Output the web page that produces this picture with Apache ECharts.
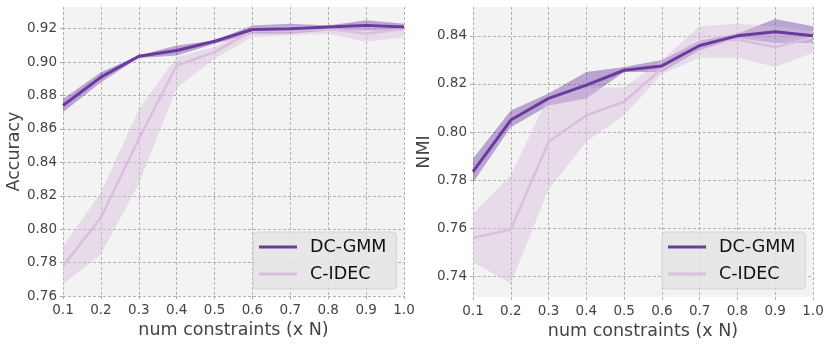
<!DOCTYPE html>
<html>
<head>
<meta charset="utf-8">
<script src="https://cdn.jsdelivr.net/npm/echarts@6/dist/echarts.min.js"></script>
<style>
  html, body { margin: 0; padding: 0; background: #fff; }
  #chart { width: 831px; height: 345px; }
</style>
</head>
<body>
<div id="chart"></div>
<script>
// x: fraction of constraints
const fractions = ['0.1', '0.2', '0.3', '0.4', '0.5', '0.6', '0.7', '0.8', '0.9', '1.0']

// Accuracy (mean, lower / upper band)
const accDcgmm = [0.874, 0.891, 0.9035, 0.907, 0.9125, 0.9195, 0.920, 0.921, 0.922, 0.921]
const accDcgmmLo = [0.870, 0.888, 0.9025, 0.904, 0.911, 0.917, 0.917, 0.919, 0.919, 0.919]
const accDcgmmHi = [0.878, 0.894, 0.904, 0.910, 0.913, 0.922, 0.923, 0.922, 0.925, 0.923]
const accCidec = [0.778, 0.807, 0.854, 0.898, 0.906, 0.919, 0.919, 0.920, 0.917, 0.920]
const accCidecLo = [0.767, 0.785, 0.827, 0.8845, 0.902, 0.915, 0.916, 0.917, 0.912, 0.915]
const accCidecHi = [0.790, 0.822, 0.872, 0.903, 0.909, 0.921, 0.922, 0.922, 0.921, 0.922]

// NMI (mean, lower / upper band)
const nmiDcgmm = [0.7835, 0.805, 0.814, 0.8195, 0.8257, 0.8275, 0.836, 0.840, 0.8417, 0.840]
const nmiDcgmmLo = [0.779, 0.802, 0.811, 0.814, 0.825, 0.825, 0.834, 0.839, 0.837, 0.837]
const nmiDcgmmHi = [0.789, 0.809, 0.816, 0.825, 0.827, 0.830, 0.838, 0.841, 0.847, 0.844]
const nmiCidec = [0.756, 0.7595, 0.796, 0.807, 0.8126, 0.8264, 0.8368, 0.8385, 0.8354, 0.8393]
const nmiCidecLo = [0.746, 0.737, 0.776, 0.796, 0.807, 0.824, 0.831, 0.831, 0.827, 0.833]
const nmiCidecHi = [0.766, 0.782, 0.815, 0.8185, 0.8185, 0.830, 0.844, 0.845, 0.844, 0.842]

const DARK = '#6a3a9e'
const LIGHT = '#d9bfdd'
const DARK_BAND = 'rgba(106,58,158,0.42)'
const LIGHT_BAND = 'rgba(217,191,221,0.45)'
const FONT = 'DejaVu Sans'
const TEXT = '#444'

// band = invisible lower line + stacked (hi - lo) area
const band = (id, lo, hi, color, idx) => [
  {
    name: id + '_lo', type: 'line', stack: id, data: lo,
    xAxisIndex: idx, yAxisIndex: idx, symbol: 'none', silent: true,
    lineStyle: { opacity: 0 },
  },
  {
    name: id + '_hi', type: 'line', stack: id,
    data: hi.map((v, i) => v - lo[i]),
    xAxisIndex: idx, yAxisIndex: idx, symbol: 'none', silent: true,
    lineStyle: { opacity: 0 },
    areaStyle: { color: color, opacity: 1 },
  },
]

const line = (name, data, color, width, idx) => ({
  name: name, type: 'line', data: data,
  xAxisIndex: idx, yAxisIndex: idx, symbol: 'none',
  lineStyle: { color: color, width: width },
  itemStyle: { color: color },
})

const xAxis = (idx) => ({
  type: 'category', gridIndex: idx, data: fractions, boundaryGap: false,
  name: 'num constraints (x N)', nameLocation: 'middle', nameGap: 25,
  nameTextStyle: { fontFamily: FONT, fontSize: 17.5, color: TEXT },
  axisLine: { show: false },
  axisTick: { show: true, length: 3, lineStyle: { color: '#aaa' } },
  axisLabel: { interval: 0, margin: 7, fontFamily: FONT, fontSize: 13.5, color: TEXT },
  splitLine: { show: true, interval: 0, lineStyle: { color: '#b2b2b2', type: [3, 2], width: 1 } },
})

const yAxis = (idx, name, nameGap, showMin, extra) => Object.assign({
  type: 'value', gridIndex: idx, scale: true,
  name: name, nameLocation: 'middle', nameGap: nameGap, nameRotate: 90,
  nameTextStyle: { fontFamily: FONT, fontSize: 17.5, color: TEXT },
  axisLine: { show: false },
  axisTick: { show: true, length: 3, lineStyle: { color: '#aaa' } },
  axisLabel: {
    margin: 6, fontFamily: FONT, fontSize: 13.5, color: TEXT,
    showMinLabel: showMin, showMaxLabel: false,
    formatter: (v) => v.toFixed(2),
  },
  splitLine: { show: true, showMinLine: showMin, showMaxLine: false, lineStyle: { color: '#b2b2b2', type: [3, 2], width: 1 } },
}, extra)

const legend = (left) => ({
  orient: 'vertical', left: left, top: 232,
  data: ['DC-GMM', 'C-IDEC'],
  icon: 'rect', itemWidth: 38, itemHeight: 3, itemGap: 7,
  padding: [5, 10, 5, 6],
  backgroundColor: 'rgba(228,228,228,0.85)',
  borderColor: 'rgba(208,208,208,0.85)', borderWidth: 1, borderRadius: 4,
  selectedMode: false,
  textStyle: { fontFamily: FONT, fontSize: 17.5, color: '#111', lineHeight: 20, padding: [0, 0, 0, 8] },
})

const chart = echarts.init(document.getElementById('chart'), null, { renderer: 'canvas' })
chart.setOption({
  animation: false,
  backgroundColor: '#fff',
  grid: [
    { left: 63, right: 427, top: 7, bottom: 49, show: true, backgroundColor: '#f3f3f3', borderWidth: 0, outerBoundsMode: 'none' },
    { left: 473, right: 18, top: 7, bottom: 48, show: true, backgroundColor: '#f3f3f3', borderWidth: 0, outerBoundsMode: 'none' },
  ],
  legend: [legend(253), legend(662)],
  xAxis: [xAxis(0), xAxis(1)],
  yAxis: [
    yAxis(0, 'Accuracy', 39, true, { min: 0.76, max: 0.933, interval: 0.02 }),
    yAxis(1, 'NMI', 40, false, { min: 0.7314, max: 0.852, splitNumber: 5 }),
  ],
  series: [
    ...band('accDc', accDcgmmLo, accDcgmmHi, DARK_BAND, 0),
    ...band('accCi', accCidecLo, accCidecHi, LIGHT_BAND, 0),
    line('C-IDEC', accCidec, LIGHT, 2.5, 0),
    line('DC-GMM', accDcgmm, DARK, 3, 0),
    ...band('nmiDc', nmiDcgmmLo, nmiDcgmmHi, DARK_BAND, 1),
    ...band('nmiCi', nmiCidecLo, nmiCidecHi, LIGHT_BAND, 1),
    line('C-IDEC', nmiCidec, LIGHT, 2.5, 1),
    line('DC-GMM', nmiDcgmm, DARK, 3, 1),
  ],
})
</script>
</body>
</html>
